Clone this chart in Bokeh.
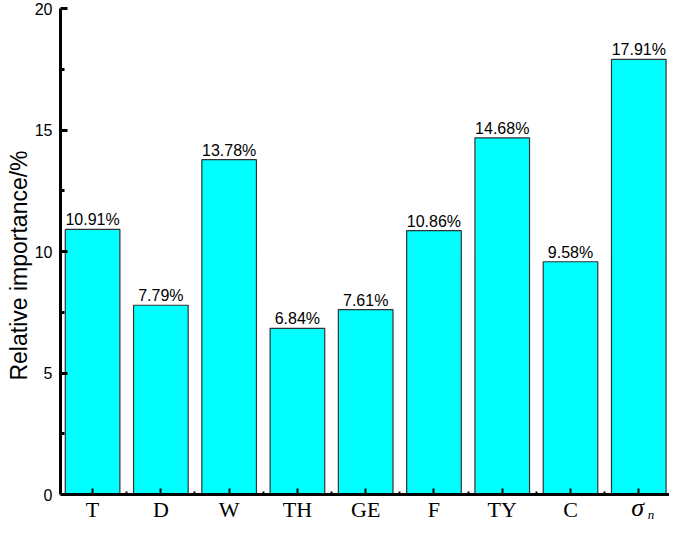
from bokeh.plotting import figure
from bokeh.models import FixedTicker, Range1d, ColumnDataSource
from bokeh.embed import file_html
from bokeh.resources import INLINE
from bokeh.core.properties import value

categories = ["T", "D", "W", "TH", "GE", "F", "TY", "C", "σ"]
last_subscript = "n"
importance = [10.91, 7.79, 13.78, 6.84, 7.61, 10.86, 14.68, 9.58, 17.91]
labels = [f"{v:.2f}%" for v in importance]
y_ticks = [0, 5, 10, 15, 20]
y_minor = [2.5, 7.5, 12.5, 17.5]

xs = list(range(1, len(categories) + 1))
zeros = [0] * len(xs)
src = ColumnDataSource(dict(x=xs, top=importance, label=labels))
cat_src = ColumnDataSource(dict(x=xs[:-1], y=zeros[:-1], name=categories[:-1]))

p = figure(width=669, height=522, output_backend="svg", toolbar_location=None,
           x_range=Range1d(0.53, 9.45), y_range=Range1d(-1.15, 20),
           min_border_left=60, min_border_right=0, min_border_top=8, min_border_bottom=0)
p.outline_line_color = None
p.xgrid.visible = False
p.ygrid.visible = False

p.vbar(x="x", top="top", width=0.8, bottom=0, source=src,
       fill_color="#00FFFF", line_color="#333333", line_width=1.2)
p.text(x="x", y="top", text="label", source=src, text_align="center",
       text_baseline="bottom", y_offset=-1, text_font=value("Liberation Sans"),
       text_font_size="16px", text_color="black")

# y axis
ya = p.yaxis[0]
ya.bounds = (0, 20)
ya.ticker = FixedTicker(ticks=y_ticks, minor_ticks=y_minor)
ya.axis_line_width = 3
ya.axis_line_color = "black"
ya.major_tick_line_color = "black"
ya.minor_tick_line_color = "black"
ya.major_tick_in = 7
ya.major_tick_out = 0
ya.major_tick_line_width = 3
ya.minor_tick_in = 4
ya.minor_tick_out = 0
ya.minor_tick_line_width = 3
ya.major_label_text_font = "Liberation Sans"
ya.major_label_text_font_size = "16px"
ya.major_label_text_color = "black"
ya.major_label_standoff = 8
ya.axis_label = "Relative importance/%"
ya.axis_label_text_font = "Liberation Sans"
ya.axis_label_text_font_size = "23px"
ya.axis_label_text_font_style = "normal"
ya.axis_label_text_color = "black"
ya.axis_label_standoff = 0

# x axis drawn at y = 0
xa = p.xaxis[0]
xa.fixed_location = 0
xa.ticker = FixedTicker(ticks=xs, minor_ticks=[x + 0.5 for x in xs[:-1]])
xa.major_label_overrides = {x: "" for x in xs}
xa.major_label_text_font_size = "0px"
xa.major_label_standoff = 0
xa.axis_line_width = 3
xa.axis_line_color = "black"
xa.major_tick_line_color = "black"
xa.minor_tick_line_color = "black"
xa.major_tick_in = 6
xa.major_tick_out = 0
xa.major_tick_line_width = 2
xa.minor_tick_in = 3
xa.minor_tick_out = 0
xa.minor_tick_line_width = 2

# category labels under the axis
p.text(x="x", y="y", text="name", source=cat_src, text_align="center",
       text_baseline="top", y_offset=2, text_font=value("Liberation Serif"),
       text_font_size="22px", text_color="black")
p.text(x=[xs[-1]], y=[0], text=[categories[-1]], text_align="center",
       text_baseline="top", y_offset=-2, x_offset=-1,
       text_font=value("Liberation Serif"), text_font_style="italic",
       text_font_size="26px", text_color="black")
p.text(x=[xs[-1]], y=[0], text=[last_subscript], text_align="left",
       text_baseline="top", y_offset=12, x_offset=9,
       text_font=value("Liberation Serif"), text_font_style="italic",
       text_font_size="13px", text_color="black")

open("out.html", "w").write(file_html(p, INLINE))
